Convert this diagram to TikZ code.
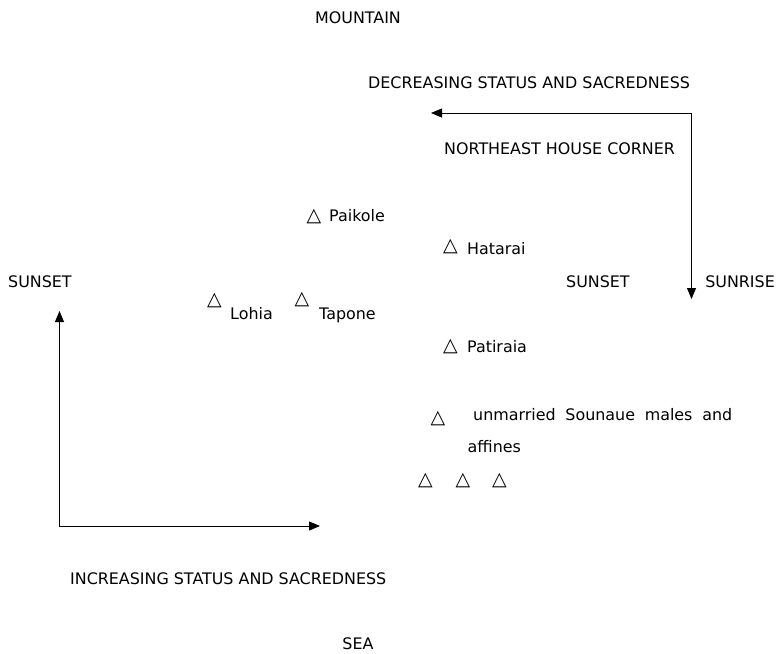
\documentclass[tikz,border=0pt]{standalone}
\usepackage{fontspec}
\setmainfont{DejaVu Sans}
\usetikzlibrary{arrows.meta}
\begin{document}
\begin{tikzpicture}[x=1pt,y=-1pt,
  lbl/.style={inner sep=0pt,anchor=base west,font=\fontsize{15.9}{18}\selectfont},
  clbl/.style={inner sep=0pt,anchor=base,font=\fontsize{15.9}{18}\selectfont},
  tri/.style={inner sep=0pt,anchor=center,font=\fontsize{19}{20}\selectfont},
  axis/.style={line width=0.8pt,{Triangle[length=11pt,width=9pt]}-{Triangle[length=11pt,width=9pt]}}]
\useasboundingbox (0,0) rectangle (778,653);
% texts
\node[clbl] (mountain) at (358,23) {MOUNTAIN};
\node[lbl] (decr) at (368,88) {DECREASING STATUS AND SACREDNESS};
\node[lbl] (ne) at (444,154) {NORTHEAST HOUSE CORNER};
\node[lbl] (sunsetL) at (8,287) {SUNSET};
\node[lbl] (sunsetR) at (566,287) {SUNSET};
\node[lbl,anchor=base east] (sunrise) at (775,287) {SUNRISE};
\node[lbl] (incr) at (70,584) {INCREASING STATUS AND SACREDNESS};
\node[clbl] (sea) at (358,649) {SEA};
% people
\node[tri] (tPaikole) at (314,217) {△};
\node[lbl] (paikole) at (329,221) {Paikole};
\node[tri] (tHatarai) at (450.5,247) {△};
\node[lbl] (hatarai) at (467,254) {Hatarai};
\node[tri] (tLohia) at (214.5,300.5) {△};
\node[lbl] (lohia) at (230,319) {Lohia};
\node[tri] (tTapone) at (302,300) {△};
\node[lbl] (tapone) at (319,319) {Tapone};
\node[tri] (tPatiraia) at (450.5,346.5) {△};
\node[lbl] (patiraia) at (467,352) {Patiraia};
\node[tri] (tUnm) at (438,419) {△};
\node[lbl] (unm) at (473,420) {\makebox[259pt][s]{unmarried Sounaue males and}};
\node[lbl] (aff) at (467.5,452) {affines};
\node[tri] (tA) at (425.5,481) {△};
\node[tri] (tB) at (463,481) {△};
\node[tri] (tC) at (499.5,481) {△};
% arrows
\coordinate (decTip) at (431,113);
\coordinate (downTip) at (691.5,299);
\draw[axis] (decTip) -| (downTip);
\coordinate (upTip) at (59.5,311);
\coordinate (rightTip) at (320,526);
\draw[axis] (upTip) |- (rightTip);
\end{tikzpicture}
\end{document}
